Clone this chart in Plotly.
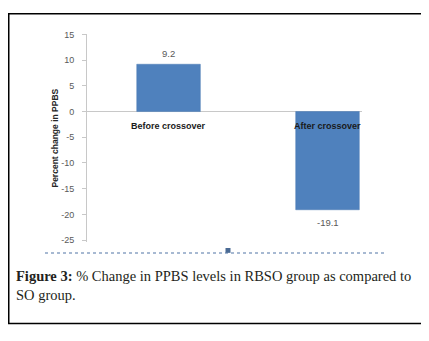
import plotly.graph_objects as go

categories = ["Before crossover", "After crossover"]
values = [9.2, -19.1]
value_labels = ["9.2", "-19.1"]
y_ticks = [15, 10, 5, 0, -5, -10, -15, -20, -25]
y_title = "Percent change in PPBS"
caption_bold = "Figure 3:"
caption_line1 = " % Change in PPBS levels in RBSO group as compared to"
caption_line2 = "SO group."

# page is rendered with an 8px body margin; figure fills the remaining area
OFF = 8
W, H = 429 - OFF, 341 - OFF


def px(x):
    return (x - OFF) / W


def py(y):
    return 1 - (y - OFF) / H


fig = go.Figure()
fig.add_trace(go.Bar(
    x=categories, y=values, width=0.40,
    marker=dict(color="#4F81BD", line=dict(color="#4A7AB5", width=0.5)),
    cliponaxis=False, showlegend=False, hoverinfo="skip",
))

for c, v, t in zip(categories, values, value_labels):
    fig.add_annotation(x=c, y=v, xref="x", yref="y", text=t, showarrow=False,
                       yanchor="middle", yshift=11 if v >= 0 else -13,
                       font=dict(family="Liberation Sans", size=9.5, color="#595959"))

for c in categories:
    fig.add_annotation(x=c, y=0, xref="x", yref="y", text="<b>%s</b>" % c,
                       showarrow=False, yanchor="middle", yshift=-14,
                       font=dict(family="Liberation Sans", size=9, color="#1a1a1a"))

fig.add_annotation(x=px(55.5), y=py(136.5), xref="paper", yref="paper",
                   text="<b>%s</b>" % y_title, textangle=-90, showarrow=False,
                   xanchor="center", yanchor="middle",
                   font=dict(family="Liberation Sans", size=8.5, color="#262626"))

fig.add_annotation(x=px(14), y=py(278.5), xref="paper", yref="paper",
                   text="<b>%s</b>%s" % (caption_bold, caption_line1),
                   showarrow=False, xanchor="left", yanchor="middle",
                   font=dict(family="Liberation Serif", size=14.5, color="#231f20"))
fig.add_annotation(x=px(14), y=py(297.5), xref="paper", yref="paper",
                   text=caption_line2,
                   showarrow=False, xanchor="left", yanchor="middle",
                   font=dict(family="Liberation Serif", size=14.5, color="#231f20"))

# outer frame
fig.add_shape(type="rect", xref="paper", yref="paper",
              x0=px(8.75), x1=px(422), y0=py(327), y1=py(8.75),
              line=dict(color="black", width=1.5))
# dotted legend line
fig.add_shape(type="line", xref="paper", yref="paper",
              x0=px(45), x1=px(385), y0=py(254.7), y1=py(254.7),
              line=dict(color="#8AA3C4", width=1.5, dash="dot"))
fig.add_shape(type="rect", xref="paper", yref="paper",
              x0=px(225.5), x1=px(230.5), y0=py(254.5), y1=py(249.5),
              line=dict(width=0), fillcolor="#4A6A94")

fig.update_layout(
    width=W, height=H,
    margin=dict(l=0, r=0, t=0, b=0),
    paper_bgcolor="white", plot_bgcolor="white",
    xaxis=dict(domain=[px(87), px(362)], range=[-0.513, 1.217],
               showticklabels=False, showgrid=False, zeroline=False,
               showline=False, ticks=""),
    yaxis=dict(domain=[py(243), py(30)], range=[-25.3, 15],
               tickvals=y_ticks, ticktext=[str(v) for v in y_ticks],
               showgrid=False, zeroline=True, zerolinecolor="#C8C8C8", zerolinewidth=1,
               showline=True, linecolor="#C8C8C8", linewidth=1,
               ticks="outside", ticklen=4, tickcolor="#C8C8C8",
               ticklabelstandoff=6,
               tickfont=dict(family="Liberation Sans", size=9, color="#595959")),
)

fig.write_html("out.html")
